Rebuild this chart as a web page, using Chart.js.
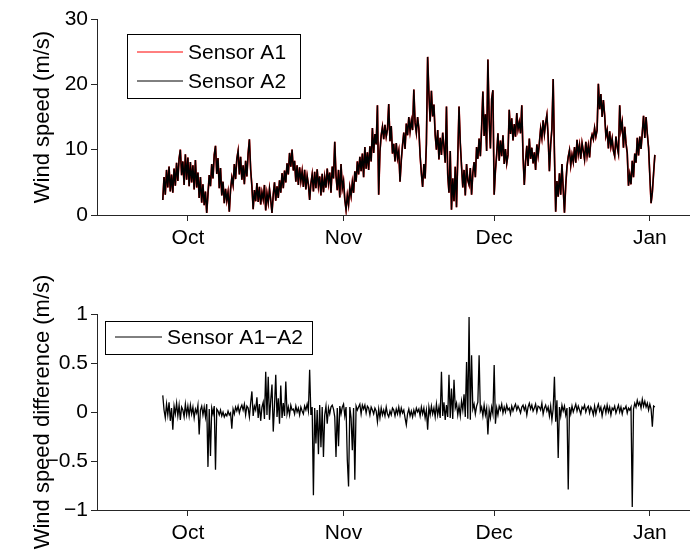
<!DOCTYPE html>
<html>
<head>
<meta charset="utf-8">
<script src="https://cdn.jsdelivr.net/npm/chart.js@4.4.1/dist/chart.umd.min.js"></script>
<style>
html,body{margin:0;padding:0;background:#fff;}
#wrap{position:relative;width:690px;height:550px;overflow:hidden;}
.pane{position:absolute;left:0;width:690px;height:275px;}
</style>
</head>
<body>
<div id="wrap">
  <div class="pane" style="top:0"><canvas id="topChart" width="690" height="275"></canvas></div>
  <div class="pane" style="top:275px"><canvas id="botChart" width="690" height="275"></canvas></div>
</div>
<script>
// ---- DATA ----
// sampling: days since 1 Oct, first sample and spacing
const startDay = -5.0;
const stepDay = 0.25;

const monthTickDays = [0, 31, 61, 92];
const monthTickLabels = ['Oct', 'Nov', 'Dec', 'Jan'];

const speedTicks = [0, 10, 20, 30];
const diffTicks = [-1, -0.5, 0, 0.5, 1];

const seriesLabels = ['Sensor A1', 'Sensor A2', 'Sensor A1\u2212A2'];

// Sensor A2 wind speed (m/s), 4 samples per day
const sensorA2 = [
2.3,5.8,3.1,6.9, 4.2,7.4,3.6,6.2, 3.4,7.1,4.5,8.0, 5.2,8.6,10.0,6.1, 8.2,4.6,9.3,5.4,
8.8,4.4,8.1,5.0, 7.6,3.9,8.4,4.2, 6.5,2.6,5.8,1.9, 4.7,1.5,3.6,0.3, 3.2,6.1,4.4,7.8,
5.6,9.2,10.6,6.3, 8.7,4.1,7.2,3.0, 5.1,1.8,4.0,2.2, 3.5,0.5,3.9,5.7, 4.6,7.8,5.5,8.6,
9.8,6.2,8.9,5.4, 7.6,4.7,8.3,5.9, 9.4,11.6,7.0,4.4, 0.9,3.8,2.1,4.9, 2.0,4.3,1.6,3.5,
2.4,4.6,0.7,3.3, 1.9,4.0,2.3,0.3, 3.1,5.0,2.2,4.4, 2.6,5.3,3.4,6.4, 4.1,6.8,5.0,7.9,
6.2,9.5,7.4,10.0, 6.8,8.3,5.1,7.6, 4.6,7.3,5.2,6.7, 4.3,6.9,3.9,6.0, 4.7,2.3,4.8,6.2,
3.6,6.6,4.1,7.0, 4.4,5.9,3.0,6.3, 3.5,5.8,4.2,7.1, 4.9,6.5,3.4,7.4, 5.6,11.2,6.0,3.8,
6.9,2.7,7.8,4.1, 5.2,2.4,0.8,3.0, 1.6,4.2,2.9,5.0, 3.4,6.7,5.1,8.2, 6.2,8.9,6.7,9.4,
5.8,10.4,7.1,9.6, 6.9,10.5,8.2,13.3, 9.5,12.4,10.8,16.8, 3.1,9.7,12.2,13.5, 11.6,13.8,12.0,13.1,
17.0,11.3,13.6,9.4, 10.9,8.2,11.0,8.7, 9.8,5.1,8.4,10.7, 12.6,10.1,14.0,12.2, 15.0,12.8,14.4,13.0,
19.2,14.1,12.6,15.0, 13.2,9.1,6.4,4.3, 7.8,5.6,10.9,24.2, 18.6,14.3,19.0,15.1, 16.9,12.3,10.0,13.0,
8.5,11.8,9.2,12.6, 10.4,8.0,16.6,6.2, 3.4,9.8,0.8,5.6, 2.1,7.4,1.2,8.8, 16.6,11.0,7.5,4.2,
6.9,3.0,7.8,5.3, 4.6,7.2,3.1,6.4, 8.1,5.8,10.4,8.6, 11.7,9.0,13.3,18.9, 12.1,15.4,9.8,23.8,
14.6,10.2,17.8,19.1, 3.1,6.8,9.3,12.5, 8.3,11.4,9.0,12.2, 7.8,10.1,7.9,9.2, 16.1,12.4,14.8,11.4,
13.9,12.0,15.6,13.1, 14.2,12.5,16.8,9.0, 4.6,8.2,10.6,7.5, 11.7,8.6,10.3,7.9, 9.6,6.9,10.8,9.1,
11.0,13.2,11.8,14.5, 12.4,14.1,15.3,12.0, 6.7,10.8,13.2,20.8, 9.4,0.5,5.2,2.8, 6.4,3.1,7.8,4.0,
0.35,4.6,7.4,8.9, 9.9,7.6,9.2,8.1, 10.4,8.0,11.5,9.3, 10.7,8.6,11.0,9.8, 8.5,11.2,9.1,10.6,
8.8,11.5,12.3,11.6, 13.3,12.0,13.0,20.1, 16.2,18.5,15.0,17.6, 15.3,12.1,13.0,10.2, 12.8,10.5,11.7,9.8,
9.0,12.0,10.4,9.4, 16.8,13.0,14.2,10.3, 13.5,11.0,9.5,4.5, 6.2,4.7,8.3,5.8, 9.4,8.0,11.8,9.1,
12.0,10.1,12.6,15.2, 11.8,15.0,12.4,10.3, 6.0,1.8,3.5,6.4, 9.2
];

// Sensor A1 wind speed (m/s): visually coincides with A2 (red only peeks out)
const sensorA1 = [
2.3,5.8,3.1,6.9, 4.2,7.4,3.6,6.2, 3.4,7.1,4.5,8.0, 5.2,8.6,10.0,6.1, 8.2,4.6,9.3,5.4,
8.8,4.4,8.1,5.0, 7.6,3.9,8.4,4.2, 6.5,2.6,5.8,1.9, 4.7,1.5,3.6,0.3, 3.2,6.1,4.4,7.8,
5.6,9.2,10.6,6.3, 8.7,4.1,7.2,3.0, 5.1,1.8,4.0,2.2, 3.5,0.5,3.9,5.7, 4.6,7.8,5.5,8.6,
9.8,6.2,8.9,5.4, 7.6,4.7,8.3,5.9, 9.4,11.6,7.0,4.4, 0.9,3.8,2.1,4.9, 2.0,4.3,1.6,3.5,
2.4,4.6,0.7,3.3, 1.9,4.0,2.3,0.3, 3.1,5.0,2.2,4.4, 2.6,5.3,3.4,6.4, 4.1,6.8,5.0,7.9,
6.2,9.5,7.4,10.0, 6.8,8.3,5.1,7.6, 4.6,7.3,5.2,6.7, 4.3,6.9,3.9,6.0, 4.7,2.3,4.8,6.2,
3.6,6.6,4.1,7.0, 4.4,5.9,3.0,6.3, 3.5,5.8,4.2,7.1, 4.9,6.5,3.4,7.4, 5.6,11.2,6.0,3.8,
6.9,2.7,7.8,4.1, 5.2,2.4,0.8,3.0, 1.6,4.2,2.9,5.0, 3.4,6.7,5.1,8.2, 6.2,8.9,6.7,9.4,
5.8,10.4,7.1,9.6, 6.9,10.5,8.2,13.3, 9.5,12.4,10.8,16.8, 3.1,9.7,12.2,13.5, 11.6,13.8,12.0,13.1,
17.0,11.3,13.6,9.4, 10.9,8.2,11.0,8.7, 9.8,5.1,8.4,10.7, 12.6,10.1,14.0,12.2, 15.0,12.8,14.4,13.0,
19.2,14.1,12.6,15.0, 13.2,9.1,6.4,4.3, 7.8,5.6,10.9,24.2, 18.6,14.3,19.0,15.1, 16.9,12.3,10.0,13.0,
8.5,11.8,9.2,12.6, 10.4,8.0,16.6,6.2, 3.4,9.8,0.8,5.6, 2.1,7.4,1.2,8.8, 16.6,11.0,7.5,4.2,
6.9,3.0,7.8,5.3, 4.6,7.2,3.1,6.4, 8.1,5.8,10.4,8.6, 11.7,9.0,13.3,18.9, 12.1,15.4,9.8,23.8,
14.6,10.2,17.8,19.1, 3.1,6.8,9.3,12.5, 8.3,11.4,9.0,12.2, 7.8,10.1,7.9,9.2, 16.1,12.4,14.8,11.4,
13.9,12.0,15.6,13.1, 14.2,12.5,16.8,9.0, 4.6,8.2,10.6,7.5, 11.7,8.6,10.3,7.9, 9.6,6.9,10.8,9.1,
11.0,13.2,11.8,14.5, 12.4,14.1,15.3,12.0, 6.7,10.8,13.2,20.8, 9.4,0.5,5.2,2.8, 6.4,3.1,7.8,4.0,
0.35,4.6,7.4,8.9, 9.9,7.6,9.2,8.1, 10.4,8.0,11.5,9.3, 10.7,8.6,11.0,9.8, 8.5,11.2,9.1,10.6,
8.8,11.5,12.3,11.6, 13.3,12.0,13.0,20.1, 16.2,18.5,15.0,17.6, 15.3,12.1,13.0,10.2, 12.8,10.5,11.7,9.8,
9.0,12.0,10.4,9.4, 16.8,13.0,14.2,10.3, 13.5,11.0,9.5,4.5, 6.2,4.7,8.3,5.8, 9.4,8.0,11.8,9.1,
12.0,10.1,12.6,15.2, 11.8,15.0,12.4,10.3, 6.0,1.8,3.5,6.4, 9.2
];

// Difference A1 - A2 (m/s), 4 samples per day
const diffA1A2 = [
0.17,0.02,-0.06,0.08, -0.03,0.10,-0.09,0.04, -0.18,0.06,-0.02,0.09, -0.04,0.07,-0.08,0.05, 0.02,-0.05,0.08,-0.03,
0.06,-0.04,0.07,-0.02, 0.05,-0.06,0.03,-0.01, 0.07,-0.23,0.02,0.06, -0.03,0.05,-0.05,0.08, -0.56,0.03,-0.45,0.04,
-0.02,0.06,-0.59,0.03, 0.01,-0.03,0.02,-0.04, 0.00,-0.05,-0.02,-0.04, 0.01,-0.03,-0.01,-0.17, 0.03,-0.02,0.05,0.01,
0.06,-0.01,0.04,0.07, 0.02,0.08,-0.03,0.06, 0.04,-0.05,0.09,0.21, -0.04,0.06,0.02,0.15, -0.06,0.08,-0.09,0.05,
0.10,-0.07,0.41,-0.03, 0.36,-0.08,0.12,0.28, -0.20,0.06,0.38,-0.05, 0.14,-0.12,0.27,-0.06, 0.09,-0.04,0.31,-0.02,
0.05,-0.03,0.07,0.02, 0.03,-0.02,0.06,0.00, 0.04,-0.03,0.05,0.01, -0.02,0.06,0.02,0.08, 0.01,0.43,-0.03,0.05,
-0.85,0.04,-0.32,0.02, -0.43,0.07,-0.36,0.05, -0.46,-0.03,0.06,-0.12, 0.04,-0.02,0.05,0.07, 0.03,-0.05,-0.46,0.04,
-0.35,0.06,-0.02,0.05, 0.08,-0.04,0.05,-0.49, -0.76,0.05,-0.06,-0.39, 0.04,-0.69,0.06,0.02, 0.05,0.08,-0.02,0.07,
0.03,0.07,-0.01,0.06, 0.04,-0.03,0.05,0.02, -0.02,0.04,0.01,-0.10, 0.03,-0.06,0.04,-0.03, 0.02,-0.04,0.05,-0.02,
-0.05,0.01,-0.03,0.04, 0.02,-0.04,0.03,-0.02, 0.05,-0.03,0.04,-0.01, 0.02,-0.06,-0.13,-0.02, 0.03,-0.04,0.01,-0.05,
0.02,-0.03,0.04,0.00, 0.03,-0.04,0.05,-0.02, 0.04,-0.06,0.02,-0.18, 0.05,-0.03,0.06,-0.02, 0.04,-0.05,0.08,-0.03,
0.05,-0.06,0.41,-0.04, 0.10,-0.08,0.07,-0.05, 0.38,-0.06,0.24,-0.07, 0.33,0.04,0.09,-0.03, 0.06,-0.04,0.11,0.02,
0.18,-0.05,0.51,-0.07, 0.97,-0.08,0.58,0.03, 0.08,-0.02,0.06,0.10, 0.58,0.01,0.05,-0.04, 0.07,-0.03,0.04,-0.23,
0.02,-0.06,0.05,-0.02, 0.48,-0.12,0.04,-0.03, 0.06,0.02,0.08,-0.01, 0.05,0.00,0.07,0.02, 0.04,-0.02,0.06,0.01,
0.05,0.08,0.02,0.06, 0.03,-0.01,0.05,0.07, 0.02,0.06,-0.03,0.05, 0.09,0.03,0.07,0.01, 0.04,0.08,0.00,0.06,
0.05,0.02,0.09,-0.02, 0.04,0.07,0.01,0.05, -0.04,0.06,-0.08,0.03, 0.36,-0.10,0.12,-0.47, 0.05,-0.04,0.07,0.01,
0.06,-0.03,0.04,-0.79, 0.05,-0.02,0.06,0.00, 0.04,0.08,0.01,0.06, 0.02,-0.02,0.05,0.03, 0.07,0.00,0.04,0.06,
-0.01,0.05,0.02,-0.03, 0.06,-0.02,0.04,0.08, 0.01,0.05,-0.04,0.03, 0.06,-0.01,0.07,0.00, 0.05,-0.03,0.04,0.02,
0.06,-0.01,0.03,0.07, 0.00,0.05,-0.02,0.04, 0.03,0.06,-0.01,0.04, 0.02,0.05,-0.97,0.03, 0.09,0.05,0.12,0.07,
0.10,0.04,0.13,0.06, 0.11,0.05,0.09,0.02, 0.08,0.03,-0.15,0.06, 0.05
];

// ---- helpers ----
const FONT = "'Liberation Sans', Arial, Helvetica, sans-serif";
const AX = '#262626';
Chart.defaults.font.family = FONT;
Chart.defaults.font.size = 21;
Chart.defaults.color = '#000';

function toPoints(values) {
  return values.map((v, i) => ({ x: startDay + i * stepDay, y: v }));
}
function minusFmt(v) {
  return v < 0 ? '\u2212' + String(Math.abs(v)) : String(v);
}

const boxLegend = {
  id: 'boxLegend',
  afterDraw(chart, args, o) {
    const ctx = chart.ctx;
    ctx.save();
    ctx.fillStyle = '#fff';
    ctx.fillRect(o.x, o.y, o.w, o.h);
    ctx.strokeStyle = '#000';
    ctx.lineWidth = 1;
    ctx.strokeRect(o.x + 0.5, o.y + 0.5, o.w, o.h);
    ctx.font = '21px ' + FONT;
    ctx.textBaseline = 'middle';
    ctx.textAlign = 'left';
    const items = chart.data.datasets.slice().sort((a, b) => a.legendIndex - b.legendIndex);
    items.forEach((ds, i) => {
      const cy = o.y + o.firstRow + i * o.rowGap;
      ctx.strokeStyle = ds.borderColor;
      ctx.lineWidth = 1;
      ctx.beginPath();
      ctx.moveTo(o.lineX0, cy);
      ctx.lineTo(o.lineX1, cy);
      ctx.stroke();
      ctx.fillStyle = '#000';
      ctx.fillText(ds.label, o.textX, cy + 1);
    });
    ctx.restore();
  }
};

function xScale(height) {
  return {
    type: 'linear',
    min: -18.1,
    max: 100,
    afterBuildTicks: (s) => { s.ticks = monthTickDays.map(v => ({ value: v })); },
    afterFit: (s) => { s.height = height; },
    ticks: {
      autoSkip: false, maxRotation: 0, padding: 5, color: '#000',
      callback: (v) => monthTickLabels[monthTickDays.indexOf(v)]
    },
    grid: { display: true, drawOnChartArea: false, drawTicks: true, tickLength: 6, color: AX, tickColor: AX },
    border: { display: true, color: AX, width: 1 }
  };
}
function yScale(min, max, tickVals, title, fmt) {
  return {
    type: 'linear',
    min: min, max: max,
    afterBuildTicks: (s) => { s.ticks = tickVals.map(v => ({ value: v })); },
    afterFit: (s) => { s.width = 97; },
    ticks: { padding: 3, color: '#000', callback: fmt },
    grid: { display: true, drawOnChartArea: false, drawTicks: true, tickLength: 6, color: AX, tickColor: AX },
    border: { display: true, color: AX, width: 1 },
    title: { display: true, text: title, color: '#000', font: { size: 22 }, padding: { top: 30, bottom: 0 } }
  };
}

// ---- top chart ----
new Chart(document.getElementById('topChart'), {
  type: 'line',
  data: {
    datasets: [
      { label: seriesLabels[0], data: toPoints(sensorA1), borderColor: '#ff0000', borderWidth: 1.7,
        pointRadius: 0, tension: 0, order: 2, legendIndex: 0 },
      { label: seriesLabels[1], data: toPoints(sensorA2), borderColor: '#000000', borderWidth: 1.5,
        pointRadius: 0, tension: 0, order: 1, legendIndex: 1 }
    ]
  },
  options: {
    responsive: false, animation: false, devicePixelRatio: 1,
    layout: { padding: { top: 19, left: 0, right: 0, bottom: 0 } },
    plugins: {
      legend: { display: false }, tooltip: { enabled: false },
      boxLegend: { x: 127, y: 34, w: 173, h: 64, firstRow: 18, rowGap: 29, lineX0: 137, lineX1: 183, textX: 188 }
    },
    scales: {
      x: xScale(60),
      y: yScale(0, 30, speedTicks, 'Wind speed (m/s)', (v) => String(v))
    }
  },
  plugins: [boxLegend]
});

// ---- bottom chart ----
new Chart(document.getElementById('botChart'), {
  type: 'line',
  data: {
    datasets: [
      { label: seriesLabels[2], data: toPoints(diffA1A2), borderColor: '#000000', borderWidth: 1.3,
        pointRadius: 0, tension: 0, legendIndex: 0 }
    ]
  },
  options: {
    responsive: false, animation: false, devicePixelRatio: 1,
    layout: { padding: { top: 39, left: 0, right: 0, bottom: 0 } },
    plugins: {
      legend: { display: false }, tooltip: { enabled: false },
      boxLegend: { x: 105, y: 46, w: 207, h: 33, firstRow: 16, rowGap: 29, lineX0: 115, lineX1: 162, textX: 167 }
    },
    scales: {
      x: xScale(40),
      y: yScale(-1, 1, diffTicks, 'Wind speed difference (m/s)', minusFmt)
    }
  },
  plugins: [boxLegend]
});
</script>
</body>
</html>
